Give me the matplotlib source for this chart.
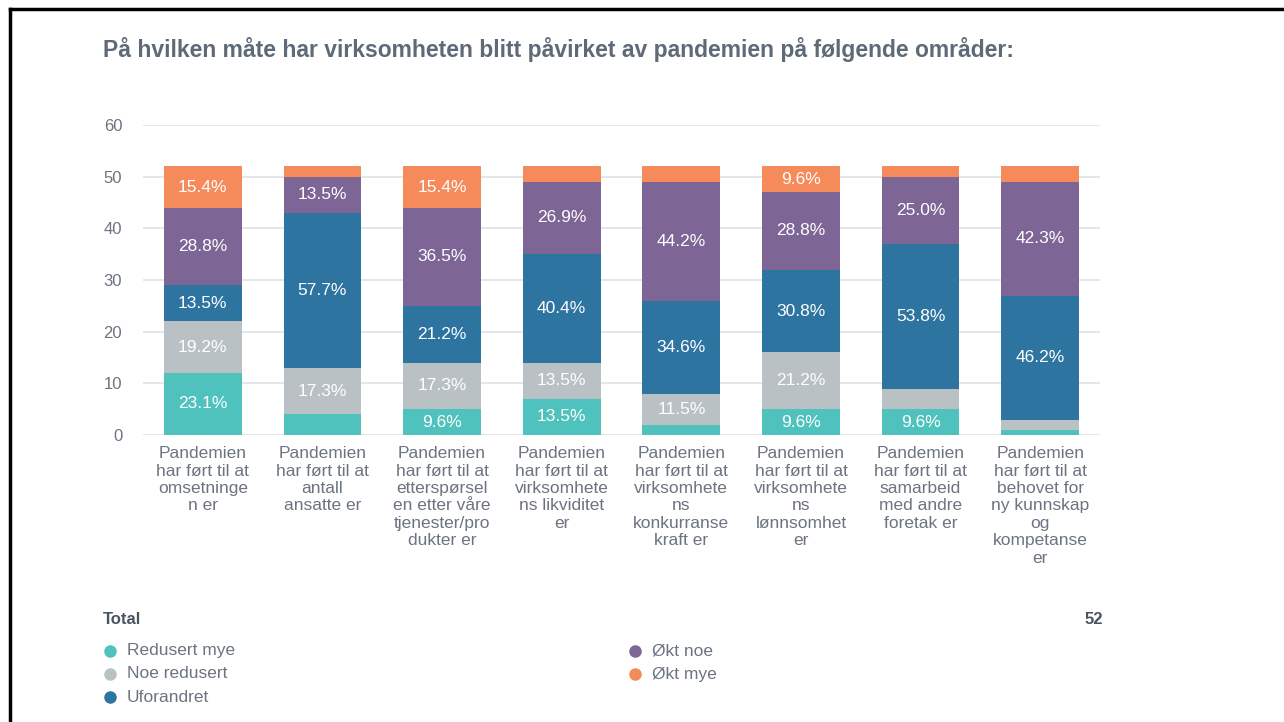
import numpy as np
import matplotlib
matplotlib.use("Agg")
import matplotlib.pyplot as plt
from matplotlib.lines import Line2D

# ---------------------------
# Data (counts of respondents, total 52)
# ---------------------------
categories = [
    "Pandemien\nhar ført til at\nomsetninge\nn er",
    "Pandemien\nhar ført til at\nantall\nansatte er",
    "Pandemien\nhar ført til at\netterspørsel\nen etter våre\ntjenester/pro\ndukter er",
    "Pandemien\nhar ført til at\nvirksomhete\nns likviditet\ner",
    "Pandemien\nhar ført til at\nvirksomhete\nns\nkonkurranse\nkraft er",
    "Pandemien\nhar ført til at\nvirksomhete\nns\nlønnsomhet\ner",
    "Pandemien\nhar ført til at\nsamarbeid\nmed andre\nforetak er",
    "Pandemien\nhar ført til at\nbehovet for\nny kunnskap\nog\nkompetanse\ner",
]
series_names = ["Redusert mye", "Noe redusert", "Uforandret", "Økt noe", "Økt mye"]
redusert_mye = [12, 4, 5, 7, 2, 5, 5, 1]
noe_redusert = [10, 9, 9, 7, 6, 11, 4, 2]
uforandret = [7, 30, 11, 21, 18, 16, 28, 24]
okt_noe = [15, 7, 19, 14, 23, 15, 13, 22]
okt_mye = [8, 2, 8, 3, 3, 5, 2, 3]
total = 52
yticks = [0, 10, 20, 30, 40, 50, 60]

colors = ["#4fc2bd", "#b9c1c5", "#2e74a1", "#7d6596", "#f58a5a"]
title_color = "#5e6a78"
text_color = "#6b7480"

plt.rcParams["font.family"] = ["Liberation Sans", "DejaVu Sans"]

fig = plt.figure(figsize=(12.84, 7.22), dpi=100)
ax = fig.add_axes([143 / 1284, 1 - 435 / 722, (1100 - 143) / 1284, (435 - 125) / 722])

x = np.arange(len(categories))
values = [redusert_mye, noe_redusert, uforandret, okt_noe, okt_mye]
bottom = np.zeros(len(categories))
for name, vals, col in zip(series_names, values, colors):
    vals = np.array(vals, dtype=float)
    ax.bar(x, vals, bottom=bottom, width=0.65, color=col, zorder=3, label=name)
    for xi, v, b in zip(x, vals, bottom):
        pct = v / total * 100
        if pct >= 9:
            ax.text(xi, b + v / 2, f"{pct:.1f}%", ha="center", va="center",
                    color="white", fontsize=12.5, zorder=4)
    bottom += vals

ax.set_xlim(-0.5, 7.5)
ax.set_ylim(0, 60)
ax.set_yticks(yticks)
ax.grid(axis="y", color="#dfe2e5", linewidth=1.2, zorder=0)
for s in ax.spines.values():
    s.set_visible(False)
ax.tick_params(axis="y", length=0, pad=15, labelcolor=text_color, labelsize=12)
ax.set_xticks(x)
ax.set_xticklabels(categories, fontsize=12.5, color=text_color, linespacing=1.2)
ax.tick_params(axis="x", length=0, pad=8)

# Title
fig.text(103 / 1284, 1 - 50 / 722, "På hvilken måte har virksomheten blitt påvirket av pandemien på følgende områder:",
         fontsize=16.5, fontweight="bold", color=title_color, va="center", ha="left")

# Legend area
fig.text(103 / 1284, 1 - 620 / 722, "Total", fontsize=12, fontweight="bold", color="#4a5460", va="center")
fig.text(1103 / 1284, 1 - 620 / 722, str(total), fontsize=12, fontweight="bold", color="#4a5460",
         va="center", ha="right")
col_x = [110, 635]
row_y = [651, 674, 697]
for i, (name, col) in enumerate(zip(series_names, colors)):
    cx = col_x[i // 3]
    cy = row_y[i % 3]
    fig.add_artist(Line2D([cx / 1284], [1 - cy / 722], marker="o", markersize=8,
                          color=col, linestyle="none", transform=fig.transFigure))
    fig.text((cx + 17) / 1284, 1 - cy / 722, name, fontsize=12.5, color=text_color, va="center")

# Frame lines (left and top)
fig.add_artist(Line2D([9.5 / 1284, 9.5 / 1284], [0, 1 - 8.5 / 722], color="black", linewidth=2.5,
                      transform=fig.transFigure))
fig.add_artist(Line2D([9.5 / 1284, 1], [1 - 8.5 / 722, 1 - 8.5 / 722], color="black", linewidth=2.5,
                      transform=fig.transFigure))

fig.savefig("out.png", dpi=100)
